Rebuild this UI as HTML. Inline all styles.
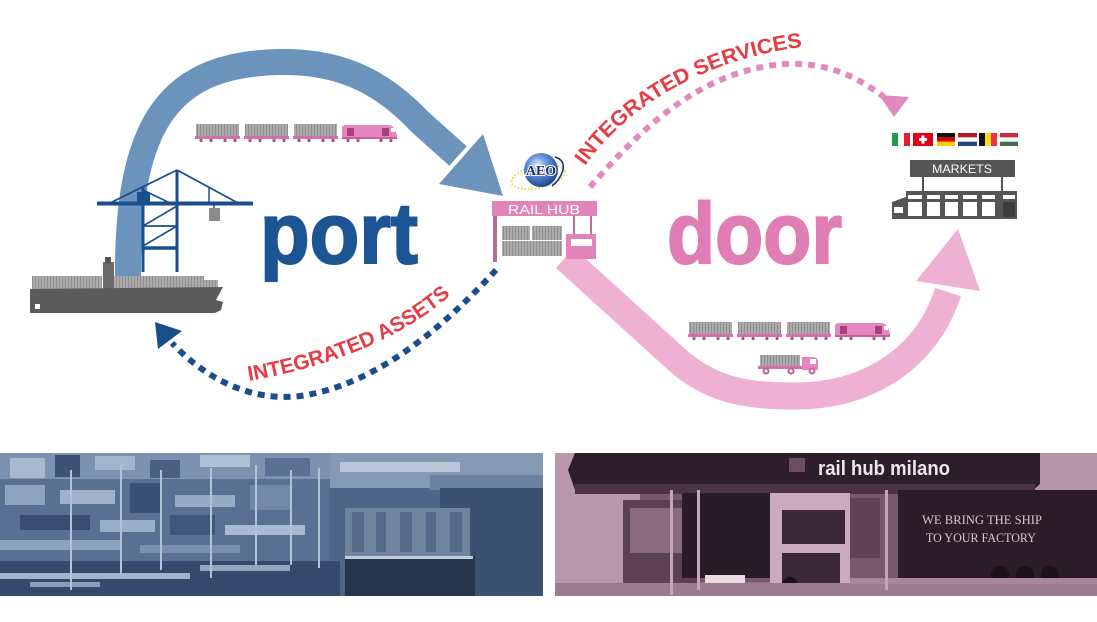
<!DOCTYPE html>
<html><head><meta charset="utf-8"><style>
html,body{margin:0;padding:0;background:#fff;}
svg{display:block;}
</style></head><body>
<svg width="1097" height="622" viewBox="0 0 1097 622" xmlns="http://www.w3.org/2000/svg">
<defs>
<pattern id="cs" width="3" height="12" patternUnits="userSpaceOnUse">
<rect width="3" height="12" fill="#ababab"/><rect x="2" width="1" height="12" fill="#8f8f8f"/>
</pattern>
<radialGradient id="glb" cx="0.4" cy="0.35" r="0.7">
<stop offset="0" stop-color="#e8f0fb"/><stop offset="0.35" stop-color="#6f9be0"/><stop offset="1" stop-color="#163e8c"/>
</radialGradient>
<g id="train">
<rect x="1" y="0" width="43" height="12" fill="url(#cs)"/>
<rect x="50" y="0" width="43" height="12" fill="url(#cs)"/>
<rect x="99" y="0" width="43" height="12" fill="url(#cs)"/>
<rect x="0" y="12" width="45" height="3" fill="#d670ab"/>
<rect x="49" y="12" width="45" height="3" fill="#d670ab"/>
<rect x="98" y="12" width="45" height="3" fill="#d670ab"/>
<path d="M147 15 L147 4 Q147 1 151 1 L193 1 Q198 1 200 6 L202 11 L202 15 Z" fill="#e587be"/>
<rect x="152" y="4" width="7" height="8" fill="#a8417b"/>
<rect x="187" y="4" width="7" height="8" fill="#a8417b"/>
<rect x="196" y="4" width="4" height="4" fill="#fff"/>
<rect x="147" y="13" width="55" height="2" fill="#c2619c"/>
<g fill="#b04a86">
<circle cx="6" cy="16.5" r="1.6"/><circle cx="16" cy="16.5" r="1.6"/><circle cx="30" cy="16.5" r="1.6"/><circle cx="40" cy="16.5" r="1.6"/>
<circle cx="55" cy="16.5" r="1.6"/><circle cx="65" cy="16.5" r="1.6"/><circle cx="79" cy="16.5" r="1.6"/><circle cx="89" cy="16.5" r="1.6"/>
<circle cx="104" cy="16.5" r="1.6"/><circle cx="114" cy="16.5" r="1.6"/><circle cx="128" cy="16.5" r="1.6"/><circle cx="138" cy="16.5" r="1.6"/>
<circle cx="153" cy="16.5" r="1.6"/><circle cx="163" cy="16.5" r="1.6"/><circle cx="186" cy="16.5" r="1.6"/><circle cx="196" cy="16.5" r="1.6"/>
</g>
</g>
<path id="pAssets" d="M249 381 C 322 368, 397 343, 452 294"/>
<path id="pServices" d="M585 166 C 624 110, 700 60, 802 47"/>
</defs>

<rect width="1097" height="622" fill="#fff"/>

<!-- big blue arc -->
<path d="M128 284 C 126 120, 170 62, 285 62 C 345 62, 385 85, 420 122 L 458 156" fill="none" stroke="#6b93bc" stroke-width="26"/>
<polygon points="439,184 483,134 503,196" fill="#6b93bc"/>

<!-- pink band -->
<path d="M565 258 L 675 358 C 712 392, 750 396, 795 396 C 872 396, 928 355, 948 292" fill="none" stroke="#eeb1d3" stroke-width="27"/>
<polygon points="958,229 916,281 980,291" fill="#eeb1d3"/>

<!-- ship -->
<g>
<rect x="32" y="276" width="70" height="14" fill="url(#cs)"/>
<rect x="114" y="276" width="90" height="14" fill="url(#cs)"/>
<rect x="200" y="280" width="18" height="10" fill="url(#cs)"/>
<rect x="103" y="262" width="11" height="28" fill="#6b6b6b"/>
<rect x="105" y="257" width="6" height="6" fill="#555"/>
<path d="M30 289 L 223 287 L 216 300 L 223 302 L 221 310 L 215 313 L 30 313 Z" fill="#5b5b5b"/>
<rect x="35" y="304" width="5" height="5" fill="#fff"/>
</g>

<!-- crane -->
<g stroke="#1a4f8e" fill="none">
<line x1="97" y1="203.5" x2="253" y2="203.5" stroke-width="4"/>
<line x1="177" y1="170" x2="110" y2="203" stroke-width="1.8"/>
<line x1="177" y1="170" x2="238" y2="203" stroke-width="1.8"/>
<line x1="143" y1="186" x2="143" y2="272" stroke-width="3"/>
<line x1="177" y1="170" x2="177" y2="272" stroke-width="3"/>
<line x1="143" y1="190" x2="170" y2="203" stroke-width="1.6"/>
<line x1="143" y1="226" x2="177" y2="226" stroke-width="1.8"/>
<line x1="143" y1="226" x2="177" y2="206" stroke-width="1.6"/>
<line x1="143" y1="246" x2="177" y2="226" stroke-width="1.6"/>
<line x1="143" y1="248" x2="177" y2="248" stroke-width="3.5"/>
<line x1="209" y1="188" x2="209" y2="203" stroke-width="1.5"/>
<line x1="214" y1="205" x2="214" y2="209" stroke-width="1.5"/>
</g>
<rect x="137" y="192" width="13" height="11" fill="#1a4f8e"/>
<rect x="209" y="208" width="11" height="13" fill="#8c8c8c"/>

<!-- trains -->
<use href="#train" transform="translate(195,124)"/>
<use href="#train" transform="translate(688,322)"/>

<!-- truck -->
<rect x="760" y="355" width="40" height="12" fill="url(#cs)"/>
<rect x="758" y="366" width="48" height="3" fill="#d670ab"/>
<path d="M802 370 L802 357 L813 357 Q817 357 818 361 L818 370 Z" fill="#e587be"/>
<rect x="810" y="359" width="6" height="5" fill="#fff"/>
<g fill="#fff" stroke="#c2619c" stroke-width="2"><circle cx="766" cy="371" r="2.5"/><circle cx="791" cy="371" r="2.5"/><circle cx="812" cy="371" r="2.5"/></g>

<!-- big words -->
<text x="260" y="263" font-family="Liberation Sans, sans-serif" font-weight="bold" font-size="86" fill="#1d5494" stroke="#1d5494" stroke-width="2" textLength="158" lengthAdjust="spacingAndGlyphs">port</text>
<text x="667" y="263" font-family="Liberation Sans, sans-serif" font-weight="bold" font-size="86" fill="#e07db4" stroke="#e07db4" stroke-width="2" textLength="175" lengthAdjust="spacingAndGlyphs">door</text>

<!-- dotted blue arrow -->
<path d="M496 270 C 450 320, 380 385, 300 396 C 250 402, 205 378, 172 343" fill="none" stroke="#1b4d8a" stroke-width="6" stroke-dasharray="7 6"/>
<polygon points="155,322 158,349 182,331" fill="#1b4d8a"/>

<!-- dotted pink arrow -->
<path d="M590 187 C 640 130, 700 70, 785 64 C 830 62, 858 78, 884 97" fill="none" stroke="#e08bbf" stroke-width="6" stroke-dasharray="7 6"/>
<polygon points="879,95 909,97 894,117" fill="#e08bbf"/>

<!-- curved labels -->
<text font-family="Liberation Sans Narrow, Liberation Sans, sans-serif" font-weight="bold" font-size="21" fill="#e63c44"><textPath href="#pAssets" textLength="222" lengthAdjust="spacingAndGlyphs">INTEGRATED ASSETS</textPath></text>
<text font-family="Liberation Sans Narrow, Liberation Sans, sans-serif" font-weight="bold" font-size="21" fill="#e63c44"><textPath href="#pServices" textLength="255" lengthAdjust="spacingAndGlyphs">INTEGRATED SERVICES</textPath></text>

<!-- rail hub -->
<rect x="492" y="201" width="105" height="15" fill="#e283b9"/>
<text x="544" y="214" text-anchor="middle" font-family="Liberation Sans Narrow, Liberation Sans, sans-serif" font-size="13" fill="#fff" textLength="72" lengthAdjust="spacingAndGlyphs">RAIL HUB</text>
<rect x="493" y="216" width="4" height="46" fill="#b86a93"/>
<rect x="502" y="226" width="28" height="14" fill="url(#cs)"/>
<rect x="532" y="226" width="30" height="14" fill="url(#cs)"/>
<rect x="502" y="241" width="60" height="15" fill="url(#cs)"/>
<rect x="573" y="216" width="2" height="19" fill="#c46c9c"/>
<rect x="590" y="216" width="2" height="19" fill="#c46c9c"/>
<rect x="566" y="234" width="30" height="25" fill="#e283b9"/>
<rect x="571" y="239" width="21" height="7" fill="#fff"/>

<!-- AEO -->
<ellipse cx="538" cy="177" rx="27" ry="11" transform="rotate(-12 538 177)" fill="none" stroke="#e3dc3a" stroke-width="2" stroke-dasharray="1.5 2"/>
<circle cx="541" cy="170" r="17" fill="url(#glb)"/>
<path d="M555 157 Q 565 160 563 170 Q 560 180 552 186" fill="none" stroke="#1a2f6b" stroke-width="1.5"/>
<text x="541" y="175" text-anchor="middle" font-family="Liberation Serif, serif" font-weight="bold" font-size="14" fill="#1a2f6b" stroke="#fff" stroke-width="2" paint-order="stroke" textLength="30" lengthAdjust="spacingAndGlyphs">AEO</text>

<!-- flags -->
<g>
<rect x="892" y="133" width="6" height="13" fill="#1e9a48"/><rect x="898" y="133" width="6" height="13" fill="#fff"/><rect x="904" y="133" width="6" height="13" fill="#e0202a"/>
<rect x="913" y="133" width="20" height="13" fill="#e3001b"/><rect x="921.5" y="135.5" width="3" height="8" fill="#fff"/><rect x="919" y="138" width="8" height="3" fill="#fff"/>
<rect x="937" y="133" width="18" height="4.4" fill="#111"/><rect x="937" y="137.4" width="18" height="4.3" fill="#dd0000"/><rect x="937" y="141.7" width="18" height="4.3" fill="#ffce00"/>
<rect x="958" y="133" width="19" height="4.4" fill="#ae1c28"/><rect x="958" y="137.4" width="19" height="4.3" fill="#fff"/><rect x="958" y="141.7" width="19" height="4.3" fill="#21468b"/>
<rect x="979" y="133" width="6" height="13" fill="#111"/><rect x="985" y="133" width="6" height="13" fill="#fdda24"/><rect x="991" y="133" width="6" height="13" fill="#ef3340"/>
<rect x="1000" y="133" width="18" height="4.4" fill="#cd2a3e"/><rect x="1000" y="137.4" width="18" height="4.3" fill="#fff"/><rect x="1000" y="141.7" width="18" height="4.3" fill="#436f4d"/>
</g>

<!-- markets -->
<rect x="910" y="160" width="105" height="17" fill="#555"/>
<text x="962" y="173" text-anchor="middle" font-family="Liberation Sans Narrow, Liberation Sans, sans-serif" font-size="12" fill="#fff" textLength="60" lengthAdjust="spacingAndGlyphs">MARKETS</text>
<rect x="922" y="177" width="2" height="15" fill="#555"/>
<rect x="1001" y="177" width="2" height="15" fill="#555"/>
<path d="M892 219 L892 202 L906 197 L906 191 L1017 191 L1017 219 Z" fill="#555"/>
<g fill="#fff">
<rect x="908" y="195" width="14" height="4"/><rect x="927" y="195" width="13" height="4"/><rect x="945" y="195" width="13" height="4"/><rect x="963" y="195" width="14" height="4"/><rect x="982" y="195" width="13" height="4"/><rect x="1003" y="195" width="12" height="4"/>
<rect x="908" y="202" width="14" height="14"/><rect x="927" y="202" width="13" height="14"/><rect x="945" y="202" width="13" height="14"/><rect x="963" y="202" width="14" height="14"/><rect x="982" y="202" width="13" height="14"/>
<rect x="894" y="207" width="9" height="6"/>
</g>
<rect x="1003" y="202" width="12" height="15" fill="#3d3d3d"/>

<!-- left photo -->
<g>
<rect x="0" y="453" width="543" height="143" fill="#4f6587"/>
<rect x="0" y="453" width="330" height="26" fill="#7d92b0"/>
<rect x="10" y="458" width="35" height="20" fill="#a8b9cf"/>
<rect x="55" y="455" width="25" height="22" fill="#3e5276"/>
<rect x="95" y="456" width="40" height="14" fill="#a3b5cc"/>
<rect x="150" y="460" width="30" height="18" fill="#4a5f82"/>
<rect x="200" y="455" width="50" height="12" fill="#b1c1d5"/>
<rect x="265" y="458" width="45" height="18" fill="#5b7093"/>
<rect x="330" y="453" width="213" height="35" fill="#8599b5"/>
<rect x="340" y="462" width="120" height="10" fill="#b8c6d8"/>
<rect x="430" y="475" width="113" height="15" fill="#6c809f"/>
<rect x="0" y="479" width="330" height="82" fill="#5a7093"/>
<rect x="5" y="485" width="40" height="20" fill="#8ea2be"/>
<rect x="60" y="490" width="55" height="14" fill="#a0b2c9"/>
<rect x="130" y="483" width="30" height="30" fill="#3c5073"/>
<rect x="175" y="495" width="60" height="12" fill="#98abc4"/>
<rect x="250" y="485" width="40" height="25" fill="#7388a8"/>
<rect x="20" y="515" width="70" height="15" fill="#3a4d70"/>
<rect x="100" y="520" width="55" height="12" fill="#9aaec7"/>
<rect x="170" y="515" width="45" height="20" fill="#42567a"/>
<rect x="225" y="525" width="80" height="10" fill="#a9bad0"/>
<rect x="0" y="540" width="120" height="10" fill="#8fa3bf"/>
<rect x="140" y="545" width="100" height="8" fill="#7b90ae"/>
<rect x="0" y="561" width="340" height="35" fill="#36496c"/>
<rect x="0" y="573" width="190" height="6" fill="#a3b4ca"/>
<rect x="200" y="565" width="90" height="6" fill="#93a6c0"/>
<rect x="30" y="582" width="70" height="5" fill="#8a9eba"/>
<g fill="#b3c2d6">
<rect x="70" y="470" width="2" height="120"/><rect x="120" y="465" width="2" height="110"/><rect x="160" y="470" width="2" height="100"/><rect x="210" y="468" width="2" height="110"/><rect x="255" y="465" width="2" height="100"/><rect x="290" y="470" width="2" height="95"/><rect x="318" y="468" width="2" height="100"/>
</g>
<rect x="440" y="488" width="103" height="108" fill="#3c5072"/>
<rect x="345" y="508" width="125" height="48" fill="#71849f"/>
<g fill="#55698a"><rect x="352" y="512" width="12" height="40"/><rect x="376" y="512" width="10" height="40"/><rect x="400" y="512" width="12" height="40"/><rect x="426" y="512" width="10" height="40"/><rect x="450" y="512" width="12" height="40"/></g>
<rect x="345" y="556" width="130" height="40" fill="#26344c"/>
<rect x="345" y="556" width="128" height="3" fill="#c0ccd9"/>
</g>

<!-- right photo -->
<g>
<rect x="555" y="453" width="542" height="143" fill="#8f6d81"/>
<rect x="555" y="453" width="85" height="130" fill="#ba98ac"/>
<rect x="1035" y="453" width="62" height="40" fill="#b394a7"/>
<rect x="640" y="490" width="260" height="92" fill="#76596b"/>
<polygon points="568,470 575,453 1040,453 1040,484 1030,493 575,490" fill="#2e1e29"/>
<rect x="575" y="484" width="460" height="10" fill="#4b3544"/>
<text x="818" y="475" font-family="Liberation Sans, sans-serif" font-weight="bold" font-size="20" fill="#f1e6ec" textLength="132" lengthAdjust="spacingAndGlyphs">rail hub milano</text>
<rect x="789" y="458" width="16" height="14" fill="#6a4e60"/>
<rect x="623" y="500" width="75" height="90" fill="#5a4252"/>
<rect x="630" y="508" width="60" height="45" fill="#8a6b7e"/>
<rect x="682" y="493" width="93" height="85" fill="#2a1c26"/>
<rect x="770" y="493" width="80" height="101" fill="#c9abbb"/>
<rect x="782" y="510" width="63" height="34" fill="#3a2835"/>
<rect x="782" y="553" width="58" height="30" fill="#3a2835"/>
<rect x="850" y="498" width="30" height="60" fill="#5d4556"/>
<rect x="898" y="490" width="199" height="92" fill="#2b1c27"/>
<text x="922" y="524" font-family="Liberation Serif, serif" font-size="13" fill="#dcc6d2" textLength="120" lengthAdjust="spacingAndGlyphs">WE BRING THE SHIP</text>
<text x="926" y="542" font-family="Liberation Serif, serif" font-size="13" fill="#dcc6d2" textLength="110" lengthAdjust="spacingAndGlyphs">TO YOUR FACTORY</text>
<g fill="#1b1118"><circle cx="1000" cy="575" r="9"/><circle cx="1025" cy="575" r="9"/><circle cx="1050" cy="575" r="9"/><circle cx="790" cy="585" r="8"/><circle cx="735" cy="585" r="8"/></g>
<rect x="555" y="583" width="542" height="13" fill="#9b7b8d"/>
<rect x="850" y="578" width="247" height="6" fill="#a6889a"/>
<g fill="#c5a6b8"><rect x="670" y="490" width="3" height="105"/><rect x="697" y="490" width="3" height="100"/><rect x="885" y="490" width="3" height="100"/></g>
<rect x="705" y="575" width="40" height="8" fill="#e8dbe2"/>
</g>
</svg>
</body></html>
